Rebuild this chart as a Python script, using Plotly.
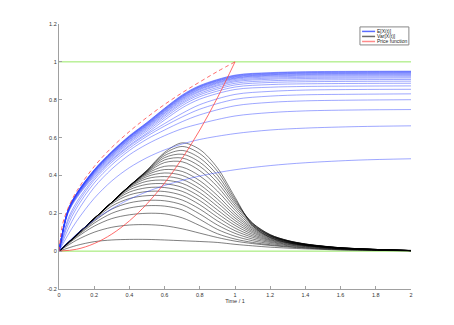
import plotly.graph_objects as go

# time grid of the mean curves and the 20 curves E[X(t)], lowest first
T_MEAN = [0, 0.05, 0.1, 0.2, 0.3, 0.4, 0.5, 0.6, 0.7, 0.8, 1.0, 1.2, 1.4, 1.7, 2.0]
MEAN_CURVES = [
    [0, .047, .090, .164, .224, .274, .314, .347, .374, .397, .430, .452, .467, .481, .488],
    [0, .084, .158, .279, .371, .441, .494, .535, .566, .590, .621, .640, .650, .658, .662],
    [0, .112, .202, .337, .434, .509, .565, .610, .647, .673, .714, .732, .741, .746, .748],
    [0, .136, .228, .360, .456, .532, .592, .640, .684, .720, .768, .786, .794, .798, .800],
    [0, .154, .245, .376, .470, .544, .607, .661, .709, .750, .802, .819, .826, .829, .831],
    [0, .167, .259, .386, .479, .554, .617, .674, .728, .774, .828, .844, .851, .854, .855],
    [0, .197, .280, .395, .484, .560, .624, .693, .757, .803, .854, .866, .870, .872, .873],
    [0, .200, .285, .401, .491, .569, .634, .704, .769, .816, .867, .880, .884, .886, .887],
    [0, .203, .288, .406, .497, .576, .642, .713, .779, .826, .878, .891, .895, .897, .898],
    [0, .205, .291, .410, .502, .581, .649, .720, .786, .834, .887, .900, .904, .906, .907],
    [0, .207, .294, .414, .507, .587, .654, .727, .793, .842, .895, .908, .912, .914, .915],
    [0, .208, .296, .416, .510, .590, .659, .731, .799, .847, .901, .914, .918, .920, .921],
    [0, .210, .298, .419, .514, .594, .663, .736, .804, .853, .907, .920, .924, .926, .927],
    [0, .211, .299, .421, .516, .597, .666, .740, .808, .857, .912, .925, .929, .931, .932],
    [0, .212, .300, .423, .519, .600, .669, .743, .812, .861, .915, .929, .933, .935, .936],
    [0, .212, .302, .425, .521, .603, .672, .746, .815, .865, .919, .932, .937, .939, .940],
    [0, .213, .303, .426, .522, .604, .674, .749, .818, .868, .922, .935, .940, .942, .943],
    [0, .214, .304, .428, .524, .606, .676, .751, .820, .870, .925, .938, .943, .945, .946],
    [0, .214, .305, .429, .526, .608, .679, .754, .823, .873, .928, .941, .946, .948, .949],
    [0, .215, .305, .430, .527, .610, .680, .755, .825, .875, .930, .943, .948, .950, .951],
]

# time grid of the variance curves and the 20 curves Var[X(t)]
T_VAR = [0, 0.1, 0.2, 0.3, 0.4, 0.5, 0.6, 0.7, 0.8, 0.9, 1.0, 1.1, 1.2, 1.3, 1.4, 1.5, 1.6, 1.8, 2.0]
VAR_CURVES = [
    [0, .030, .050, .059, .062, .062, .059, .055, .051, .046, .036, .028, .021, .016, .012, .009, .006, .004, .002],
    [0, .058, .100, .126, .138, .140, .134, .118, .095, .072, .053, .040, .030, .022, .016, .011, .008, .004, .002],
    [0, .072, .132, .172, .192, .200, .197, .176, .135, .092, .064, .046, .034, .025, .018, .013, .009, .005, .002],
    [0, .078, .148, .200, .228, .240, .238, .218, .168, .115, .079, .055, .040, .029, .021, .015, .011, .006, .002],
    [0, .082, .158, .222, .255, .268, .266, .245, .196, .138, .094, .064, .046, .033, .024, .017, .012, .006, .003],
    [0, .084, .165, .238, .278, .293, .292, .270, .222, .160, .108, .073, .051, .036, .026, .019, .013, .007, .003],
    [0, .085, .170, .250, .297, .315, .315, .294, .245, .180, .122, .081, .056, .039, .028, .020, .014, .007, .003],
    [0, .086, .172, .256, .312, .335, .336, .316, .267, .199, .136, .089, .060, .042, .030, .021, .015, .008, .003],
    [0, .086, .172, .258, .324, .353, .356, .337, .288, .218, .149, .097, .064, .044, .031, .022, .015, .008, .003],
    [0, .086, .172, .258, .333, .369, .375, .358, .309, .237, .162, .104, .068, .046, .032, .023, .016, .008, .003],
    [0, .086, .172, .258, .338, .383, .394, .379, .330, .256, .175, .111, .072, .048, .033, .024, .016, .008, .003],
    [0, .086, .172, .258, .341, .394, .413, .400, .351, .275, .188, .118, .075, .050, .034, .024, .017, .008, .003],
    [0, .086, .172, .258, .343, .403, .431, .421, .372, .294, .201, .124, .078, .052, .035, .025, .017, .009, .003],
    [0, .086, .172, .258, .344, .410, .448, .444, .397, .318, .216, .131, .081, .053, .036, .025, .017, .009, .003],
    [0, .086, .172, .258, .344, .415, .468, .472, .425, .341, .230, .137, .083, .054, .037, .026, .018, .009, .003],
    [0, .086, .172, .258, .344, .419, .482, .492, .448, .362, .243, .143, .085, .055, .037, .026, .018, .009, .003],
    [0, .086, .172, .258, .344, .422, .494, .512, .470, .382, .255, .148, .087, .056, .038, .026, .018, .009, .003],
    [0, .086, .172, .258, .344, .424, .505, .532, .492, .402, .265, .148, .087, .056, .038, .027, .018, .009, .003],
    [0, .086, .172, .258, .344, .426, .515, .553, .515, .422, .275, .142, .080, .051, .035, .025, .017, .009, .004],
    [0, .086, .172, .258, .344, .428, .522, .572, .537, .440, .285, .135, .072, .045, .030, .021, .015, .008, .004],
]

# price function and its dashed upper bound
T_PRICE = [0, 0.1, 0.2, 0.3, 0.4, 0.5, 0.6, 0.7, 0.8, 0.9, 1.0]
PRICE = [0, .01, .04, .09, .16, .25, .36, .49, .64, .81, 1.0]
T_BOUND = [0, 0.02, 0.05, 0.1, 0.2, 0.3, 0.4, 0.5, 0.6, 0.7, 0.8, 0.9, 1.0]
BOUND = [0, .141, .224, .316, .447, .548, .632, .707, .775, .837, .894, .949, 1.0]

# green reference levels
T_LEVEL = [0, 2]
LEVELS = [0, 1]

X_TICKS = [0, 0.2, 0.4, 0.6, 0.8, 1, 1.2, 1.4, 1.6, 1.8, 2]
X_TICK_LABELS = ['0', '0.2', '0.4', '0.6', '0.8', '1', '1.2', '1.4', '1.6', '1.8', '2']
Y_TICKS = [-0.2, 0, 0.2, 0.4, 0.6, 0.8, 1, 1.2]
Y_TICK_LABELS = ['-0.2', '0', '0.2', '0.4', '0.6', '0.8', '1', '1.2']

BLUE = 'rgba(40,60,255,0.45)'
BLACK = 'rgba(0,0,0,0.5)'
RED = 'rgba(255,70,70,0.8)'
GREEN = 'rgb(150,232,100)'
AXIS = '#a0a0a0'
FONT = 'Liberation Sans, Arial, sans-serif'

fig = go.Figure()

for lvl in LEVELS:
    fig.add_trace(go.Scatter(x=T_LEVEL, y=[lvl, lvl], mode='lines',
                             line=dict(color=GREEN, width=1), hoverinfo='skip'))

for curve in VAR_CURVES:
    fig.add_trace(go.Scatter(x=T_VAR, y=curve, mode='lines',
                             line=dict(color=BLACK, width=1, shape='spline', smoothing=0.9),
                             hoverinfo='skip'))

for curve in MEAN_CURVES:
    fig.add_trace(go.Scatter(x=T_MEAN, y=curve, mode='lines',
                             line=dict(color=BLUE, width=1, shape='spline', smoothing=0.9),
                             hoverinfo='skip'))

fig.add_trace(go.Scatter(x=T_PRICE, y=PRICE, mode='lines',
                         line=dict(color=RED, width=1, shape='spline'), hoverinfo='skip'))
fig.add_trace(go.Scatter(x=T_BOUND, y=BOUND, mode='lines',
                         line=dict(color=RED, width=1, dash='4px,3px', shape='spline'),
                         hoverinfo='skip'))

# small boxed legend, top right
legend_items = [('E[X(t)]', '#5a6cff'), ('Var[X(t)]', '#6a6a6a'),
                ('Price function', '#ff8a8a')]
fig.add_shape(type='rect', xref='paper', yref='paper', x0=0.855, x1=0.994, y0=0.921, y1=0.989,
              line=dict(color='#888', width=1), fillcolor='white', layer='above')
for i, (name, col) in enumerate(legend_items):
    yy = 0.972 - i * 0.019
    fig.add_shape(type='line', xref='paper', yref='paper', x0=0.861, x1=0.898, y0=yy, y1=yy,
                  line=dict(color=col, width=1.5), layer='above')
    fig.add_annotation(xref='paper', yref='paper', x=0.901, y=yy, text=name, showarrow=False,
                       xanchor='left', yanchor='middle', borderpad=0,
                       font=dict(size=5, color='#222', family=FONT))

# the page body adds an 8px offset, so the figure is sized to fit inside the window
fig.update_layout(
    width=446, height=317, showlegend=False,
    paper_bgcolor='white', plot_bgcolor='white',
    margin=dict(l=51, r=43, t=16, b=36),
    font=dict(family=FONT, size=6, color='#333'),
    xaxis=dict(range=[0, 2], tickvals=X_TICKS, ticktext=X_TICK_LABELS,
               showgrid=False, zeroline=False, showline=True, linecolor=AXIS, linewidth=1.3,
               ticks='inside', ticklen=3, tickcolor=AXIS, tickwidth=1,
               tickfont=dict(size=5.5, color='#333'),
               title=dict(text='Time / 1', font=dict(size=5.5, color='#333'), standoff=1)),
    yaxis=dict(range=[-0.2, 1.2], tickvals=Y_TICKS, ticktext=Y_TICK_LABELS,
               showgrid=False, zeroline=False, showline=True, linecolor=AXIS, linewidth=1.3,
               ticks='inside', ticklen=3, tickcolor=AXIS, tickwidth=1,
               tickfont=dict(size=5.5, color='#333')),
)

fig.write_html('out.html')
